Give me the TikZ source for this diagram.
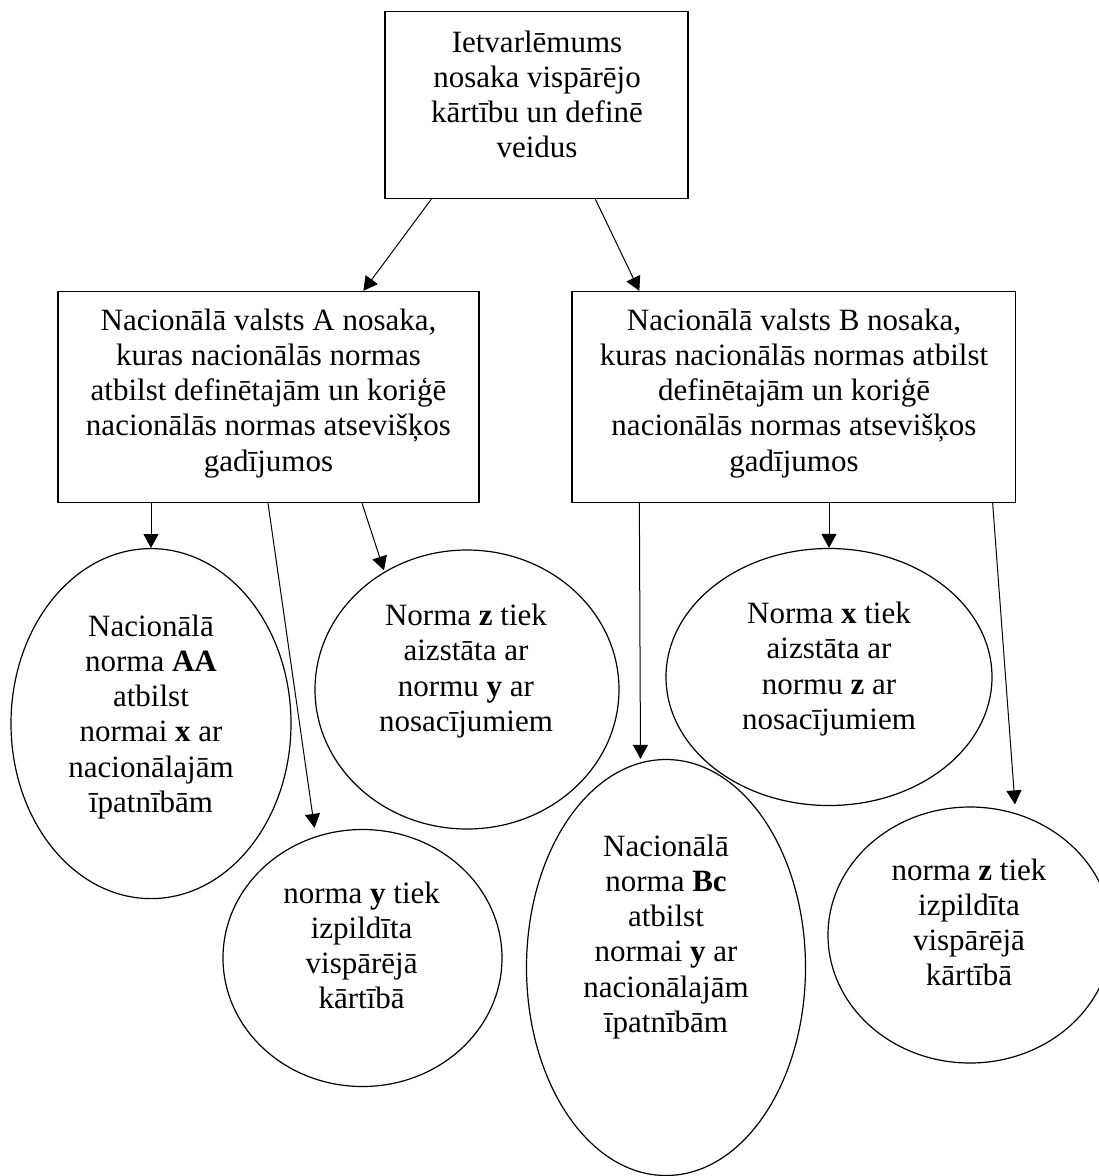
\documentclass[tikz,border=0pt]{standalone}
\usepackage{fontspec}
\setmainfont{Liberation Serif}
\usetikzlibrary{shapes.geometric,arrows.meta,calc}
\begin{document}
\begin{tikzpicture}[x=1pt,y=-1pt,
  box/.style={draw,line width=1.3pt,rectangle,inner sep=0pt},
  oval/.style={draw,line width=1.2pt,ellipse,inner sep=0pt},
  txt/.style={align=center,anchor=base,inner sep=0pt,font=\fontsize{31}{35.3}\selectfont},
  arr/.style={line width=1pt,-{Triangle[length=14pt,width=15pt]}}]
\useasboundingbox (0,0) rectangle (1099,1176);
% boxes
\node[box,minimum width=303pt,minimum height=187pt] (top) at (536.5,105) {};
\node[box,minimum width=421pt,minimum height=211pt] (A) at (268.5,397) {};
\node[box,minimum width=443.5pt,minimum height=211pt] (B) at (793.75,397) {};
% ellipses
\node[oval,minimum width=280pt,minimum height=350pt] (e1) at (151,723.6) {};
\node[oval,minimum width=304pt,minimum height=279pt] (e2) at (467,689.5) {};
\node[oval,minimum width=279pt,minimum height=257pt] (e3) at (362.5,958) {};
\node[oval,minimum width=326pt,minimum height=257pt] (e4) at (829,677) {};
\node[oval,minimum width=279pt,minimum height=416pt] (e5) at (666,967.5) {};
\node[oval,minimum width=284pt,minimum height=256pt] (e6) at (970,935) {};
% texts (anchor base = baseline of the last line)
\node[txt] (ttop) at (537,157.9) {Ietvarlēmums\\nosaka vispārējo\\kārtību un definē\\veidus};
\node[txt] (tA) at (268.5,471.2) {Nacionālā valsts A nosaka,\\kuras nacionālās normas\\atbilst definētajām un koriģē\\nacionālās normas atsevišķos\\gadījumos};
\node[txt] (tB) at (794,471.2) {Nacionālā valsts B nosaka,\\kuras nacionālās normas atbilst\\definētajām un koriģē\\nacionālās normas atsevišķos\\gadījumos};
\node[txt] (t1) at (151,812.5) {Nacionālā\\norma \textbf{AA}\\atbilst\\normai \textbf{x} ar\\nacionālajām\\īpatnībām};
\node[txt] (t2) at (466,731.4) {Norma \textbf{z} tiek\\aizstāta ar\\normu \textbf{y} ar\\nosacījumiem};
\node[txt] (t3) at (361.6,1008.9) {norma \textbf{y} tiek\\izpildīta\\vispārējā\\kārtībā};
\node[txt] (t4) at (829,729.4) {Norma \textbf{x} tiek\\aizstāta ar\\normu \textbf{z} ar\\nosacījumiem};
\node[txt] (t5) at (666,1032.5) {Nacionālā\\norma \textbf{Bc}\\atbilst\\normai \textbf{y} ar\\nacionālajām\\īpatnībām};
\node[txt] (t6) at (969,985.9) {norma \textbf{z} tiek\\izpildīta\\vispārējā\\kārtībā};
% arrows
\draw[arr] ($(top.south west)+(47,0)$) -- ($(A.north west)+(306,0)$);
\draw[arr] ($(top.south west)+(211,0)$) -- ($(B.north west)+(68,0)$);
\draw[arr] (A.south -| e1.north) -- (e1.north);
\draw[arr] ($(A.south)+(-0.5,0)$) -- ($(e3.north)+(-48,-1)$);
\draw[arr] ($(A.south)+(93.5,0)$) -- ($(e2.north)+(-83,21)$);
\draw[arr] ($(B.south west)+(68,0)$) -- ($(e5.north)+(-25.5,0)$);
\draw[arr] (B.south -| e4.north) -- (e4.north);
\draw[arr] ($(B.south east)+(-23.5,0)$) -- ($(e6.north)+(45,-2)$);
\end{tikzpicture}
\end{document}
